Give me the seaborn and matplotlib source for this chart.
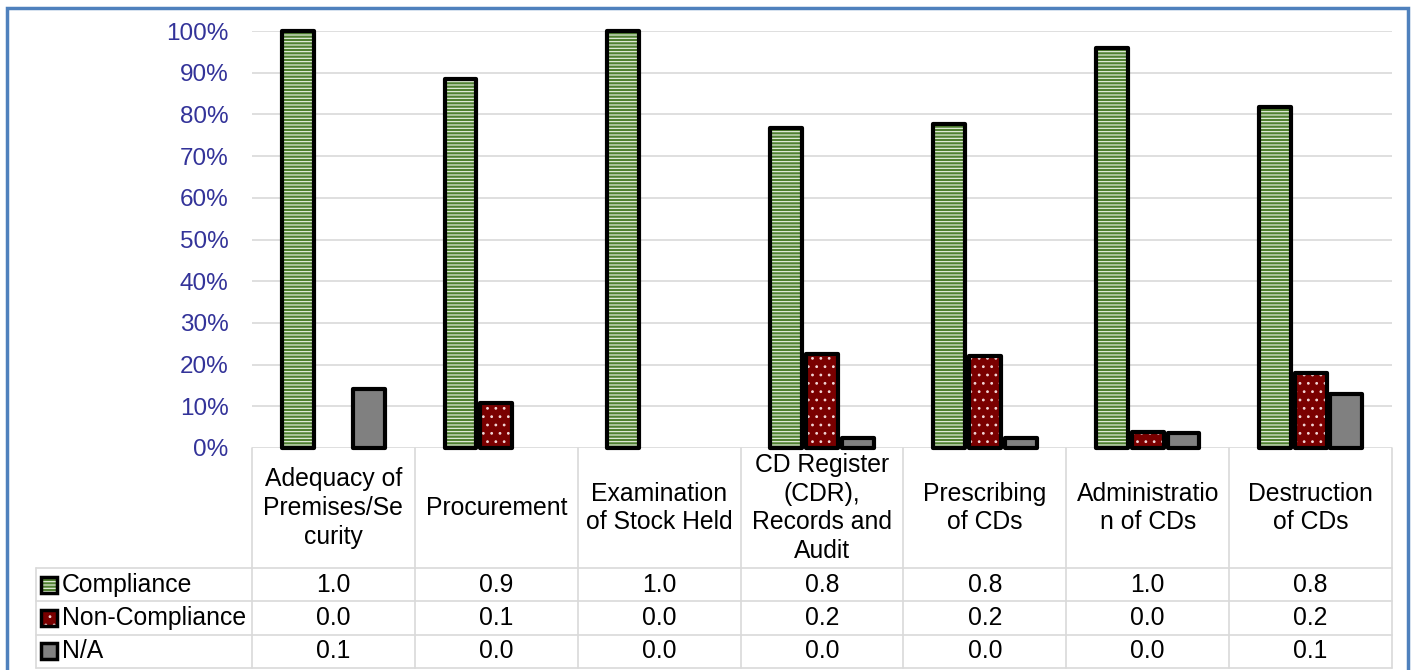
import numpy as np
import pandas as pd
import matplotlib
matplotlib.use('Agg')
import matplotlib.pyplot as plt
import seaborn as sns
from matplotlib.patches import Rectangle
from matplotlib.ticker import PercentFormatter

# Chart data
categories = ["Adequacy of Premises/Security", "Procurement", "Examination of Stock Held",
              "CD Register (CDR), Records and Audit", "Prescribing of CDs",
              "Administration of CDs", "Destruction of CDs"]
header_labels = ["Adequacy of\nPremises/Se\ncurity", "Procurement", "Examination\nof Stock Held",
                 "CD Register\n(CDR),\nRecords and\nAudit", "Prescribing\nof CDs",
                 "Administratio\nn of CDs", "Destruction\nof CDs"]
series = ["Compliance", "Non-Compliance", "N/A"]
compliance = [1.0, 0.885, 1.0, 0.767, 0.777, 0.959, 0.818]
non_compliance = [0.0, 0.108, 0.0, 0.225, 0.221, 0.038, 0.180]
not_applicable = [0.141, 0.0, 0.0, 0.025, 0.024, 0.036, 0.129]
yticks = np.arange(0, 1.01, 0.1)

df = pd.DataFrame({"category": categories, "Compliance": compliance,
                   "Non-Compliance": non_compliance, "N/A": not_applicable})
df = df.melt(id_vars="category", var_name="series", value_name="value")

sns.set_theme(style="white")
plt.rcParams['font.family'] = ['Liberation Sans', 'DejaVu Sans']
plt.rcParams['hatch.linewidth'] = 0.8

styles = {
    "Compliance": dict(face='#4f8030', hatch='-----', hcolor='#eef5e8'),
    "Non-Compliance": dict(face='#7a0000', hatch='..', hcolor='#f2d6d6'),
    "N/A": dict(face='#808080', hatch=None, hcolor='#808080'),
}
palette = {s: styles[s]['face'] for s in series}
FS = 17.8

W, H = 1412, 670
fig = plt.figure(figsize=(W / 100, H / 100), dpi=100)
ax = fig.add_axes([252 / W, (H - 448) / H, 1140 / W, 417 / H])

sns.barplot(data=df, x="category", y="value", hue="series", order=categories,
            hue_order=series, palette=palette, width=0.66, gap=0.11,
            errorbar=None, legend=False, linewidth=0, ax=ax)

# patterned fills + thick black outlines
for cont, s in zip(ax.containers, series):
    st = styles[s]
    for bar in cont:
        bar.set_facecolor(st['face'])
        bar.set_edgecolor(st['hcolor'])
        bar.set_linewidth(0)
        if st['hatch']:
            bar.set_hatch(st['hatch'])
        if bar.get_height() > 0:
            ax.add_patch(Rectangle(bar.get_xy(), bar.get_width(), bar.get_height(),
                                   fill=False, ec='black', lw=3, joinstyle='round',
                                   clip_on=False, zorder=4))

ax.set_xlim(-0.5, len(categories) - 0.5)
ax.set_ylim(0, 1)
ax.set_yticks(yticks)
ax.yaxis.set_major_formatter(PercentFormatter(1.0, decimals=0))
ax.tick_params(axis='y', length=0, pad=17, labelsize=17.5, labelcolor='#333399')
ax.set_xticks([])
ax.set_xlabel("")
ax.set_ylabel("")
ax.yaxis.grid(True, color='#d9d9d9', lw=1.2)
ax.set_axisbelow(True)
for sp in ax.spines.values():
    sp.set_visible(False)

# data table under the plot
trans = ax.get_xaxis_transform()
grid_c = '#d9d9d9'
left = -0.5 - 216 / 162.86
right = len(categories) - 0.5
header_h, row_h = 0.288, 0.080
row_edges = [-header_h - i * row_h for i in range(len(series) + 1)]
bottom = row_edges[-1]

for y in row_edges:
    ax.plot([left, right], [y, y], transform=trans, color=grid_c, lw=1.2, clip_on=False)
for i in range(len(categories) + 1):
    xv = i - 0.5
    ax.plot([xv, xv], [0, bottom], transform=trans, color=grid_c, lw=1.2, clip_on=False)
ax.plot([left, left], [row_edges[0], bottom], transform=trans, color=grid_c, lw=1.2, clip_on=False)

for i, lab in enumerate(header_labels):
    ax.text(i, -header_h / 2, lab, transform=trans, ha='center', va='center',
            fontsize=FS, color='black', linespacing=1.24)

values = [compliance, non_compliance, not_applicable]
for r, (s, vals) in enumerate(zip(series, values)):
    yc = (row_edges[r] + row_edges[r + 1]) / 2
    st = styles[s]
    kw, kh = 16 / 162.86, 16 / 417
    ax.add_patch(Rectangle((left + 5 / 162.86, yc - kh / 2), kw, kh, transform=trans,
                           facecolor=st['face'], edgecolor=st['hcolor'], hatch=st['hatch'],
                           lw=0, clip_on=False))
    ax.add_patch(Rectangle((left + 5 / 162.86, yc - kh / 2), kw, kh, transform=trans,
                           fill=False, ec='black', lw=2.5, clip_on=False))
    ax.text(left + 26 / 162.86, yc, s, transform=trans, ha='left', va='center',
            fontsize=FS, color='black')
    for i, v in enumerate(vals):
        ax.text(i, yc, f"{v:.1f}", transform=trans, ha='center', va='center',
                fontsize=FS, color='black')

# blue frame round the whole chart
fig.add_artist(Rectangle((7 / W, -0.1), (1408 - 7) / W, (H - 8) / H + 0.1,
                         transform=fig.transFigure, fill=False, ec='#4f81bd', lw=2.5))

fig.savefig('out.png', dpi=100)
